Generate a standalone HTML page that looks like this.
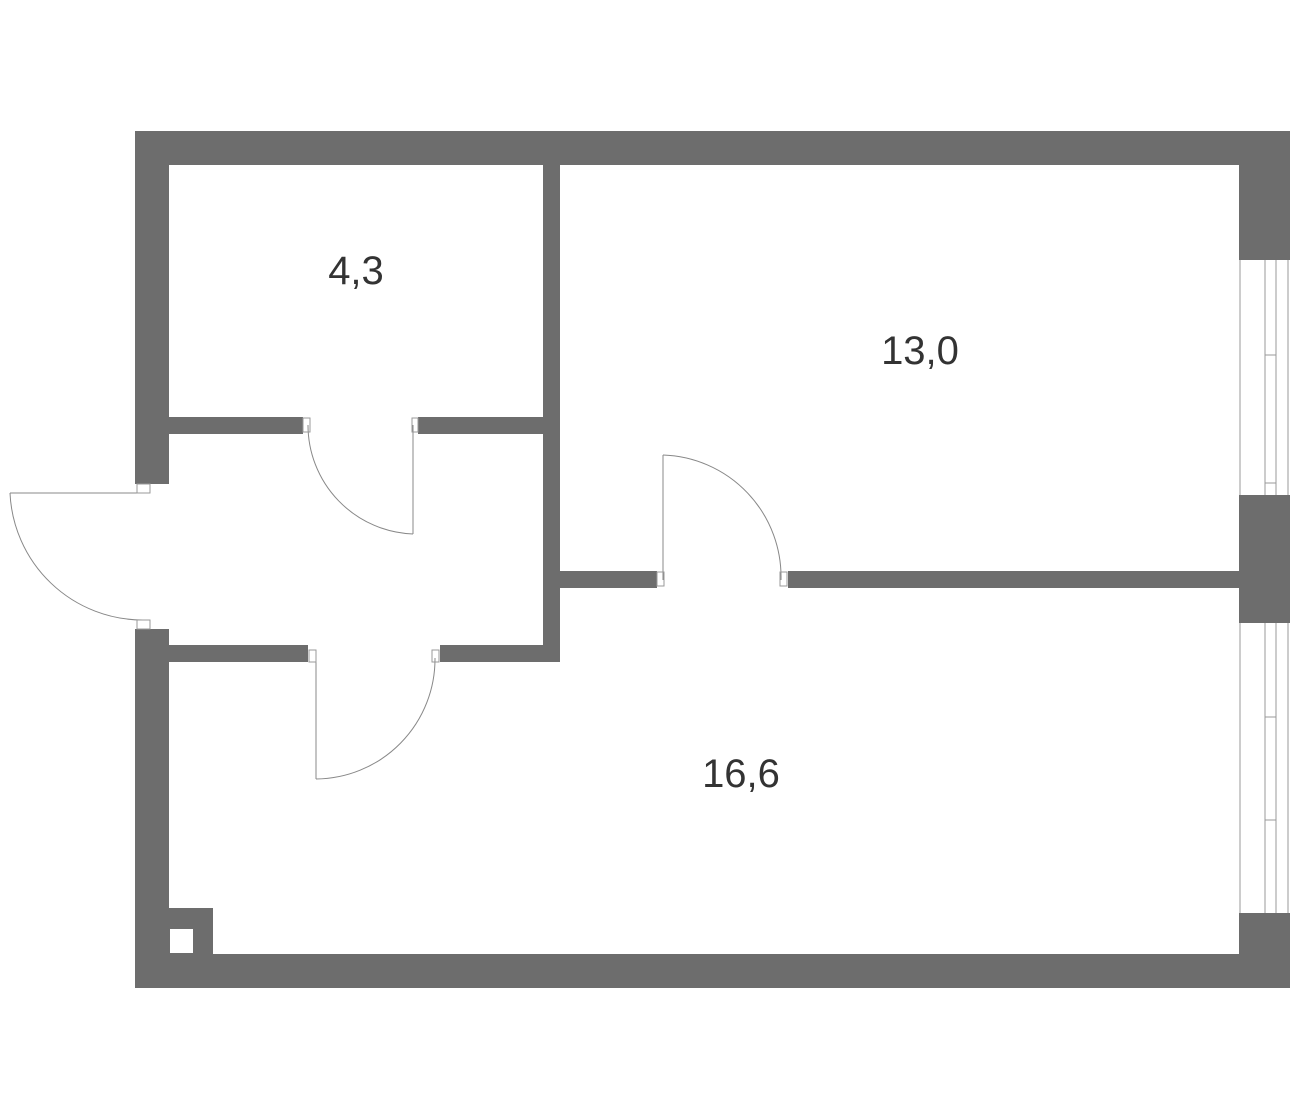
<!DOCTYPE html>
<html><head><style>body{margin:0;background:#fff}svg{display:block}</style></head><body>
<svg width="1300" height="1120" viewBox="0 0 1300 1120" xmlns="http://www.w3.org/2000/svg">
<g fill="#6d6d6d">
<rect x="135" y="131" width="1155" height="34"/>
<rect x="135" y="131" width="34" height="353"/>
<rect x="135" y="629" width="34" height="359"/>
<rect x="135" y="954" width="1155" height="34"/>
<rect x="1239" y="131" width="51" height="129"/>
<rect x="1239" y="495" width="51" height="128"/>
<rect x="1239" y="913" width="51" height="75"/>
<rect x="543" y="165" width="17" height="497"/>
<rect x="169" y="417" width="134" height="17"/>
<rect x="418" y="417" width="125" height="17"/>
<rect x="169" y="645" width="139" height="17"/>
<rect x="440" y="645" width="120" height="17"/>
<rect x="560" y="571" width="97" height="17"/>
<rect x="788" y="571" width="451" height="17"/>
<rect x="169" y="908" width="44" height="46"/>
</g>
<rect x="170" y="929" width="23" height="24" fill="#fff"/>
<g stroke="#999" stroke-width="1" fill="none">
<line x1="1240" y1="260" x2="1240" y2="495"/><line x1="1288" y1="260" x2="1288" y2="495"/>
<line x1="1265" y1="260" x2="1265" y2="495" stroke="#ccc" stroke-width="2"/><line x1="1276" y1="260" x2="1276" y2="495"/>
<line x1="1265" y1="355" x2="1276" y2="355"/><line x1="1265" y1="483" x2="1276" y2="483"/>
<line x1="1240" y1="623" x2="1240" y2="913"/><line x1="1288" y1="623" x2="1288" y2="913"/>
<line x1="1265" y1="623" x2="1265" y2="913" stroke="#ccc" stroke-width="2"/><line x1="1276" y1="623" x2="1276" y2="913"/>
<line x1="1265" y1="717" x2="1276" y2="717"/><line x1="1265" y1="820" x2="1276" y2="820"/>
<line x1="413" y1="425" x2="413" y2="534" stroke="#888"/>
<path d="M413 534 A109 109 0 0 1 308 425" stroke="#888"/>
<line x1="148" y1="493" x2="10" y2="493" stroke="#888"/>
<path d="M10 493 A133 133 0 0 0 143 620" stroke="#888"/>
<line x1="316" y1="662" x2="316" y2="779" stroke="#888"/>
<path d="M316 779 A120 120 0 0 0 435 658" stroke="#888"/>
<line x1="663" y1="580" x2="663" y2="455" stroke="#888"/>
<path d="M663 455 A122 122 0 0 1 781 580" stroke="#888"/>
<rect x="303" y="418" width="7" height="14"/><rect x="412" y="418" width="6" height="14"/>
<rect x="137" y="484" width="13" height="9"/><rect x="137" y="620" width="13" height="9"/>
<rect x="309" y="650" width="7" height="12"/><rect x="432" y="650" width="7" height="12"/>
<rect x="657" y="572" width="7" height="14"/><rect x="780" y="572" width="7" height="14"/>
</g>
<g font-family="Liberation Sans, sans-serif" font-size="40" fill="#333" text-anchor="middle">
<text x="356" y="284">4,3</text>
<text x="920" y="364">13,0</text>
<text x="741" y="787">16,6</text>
</g>
</svg>
</body></html>
